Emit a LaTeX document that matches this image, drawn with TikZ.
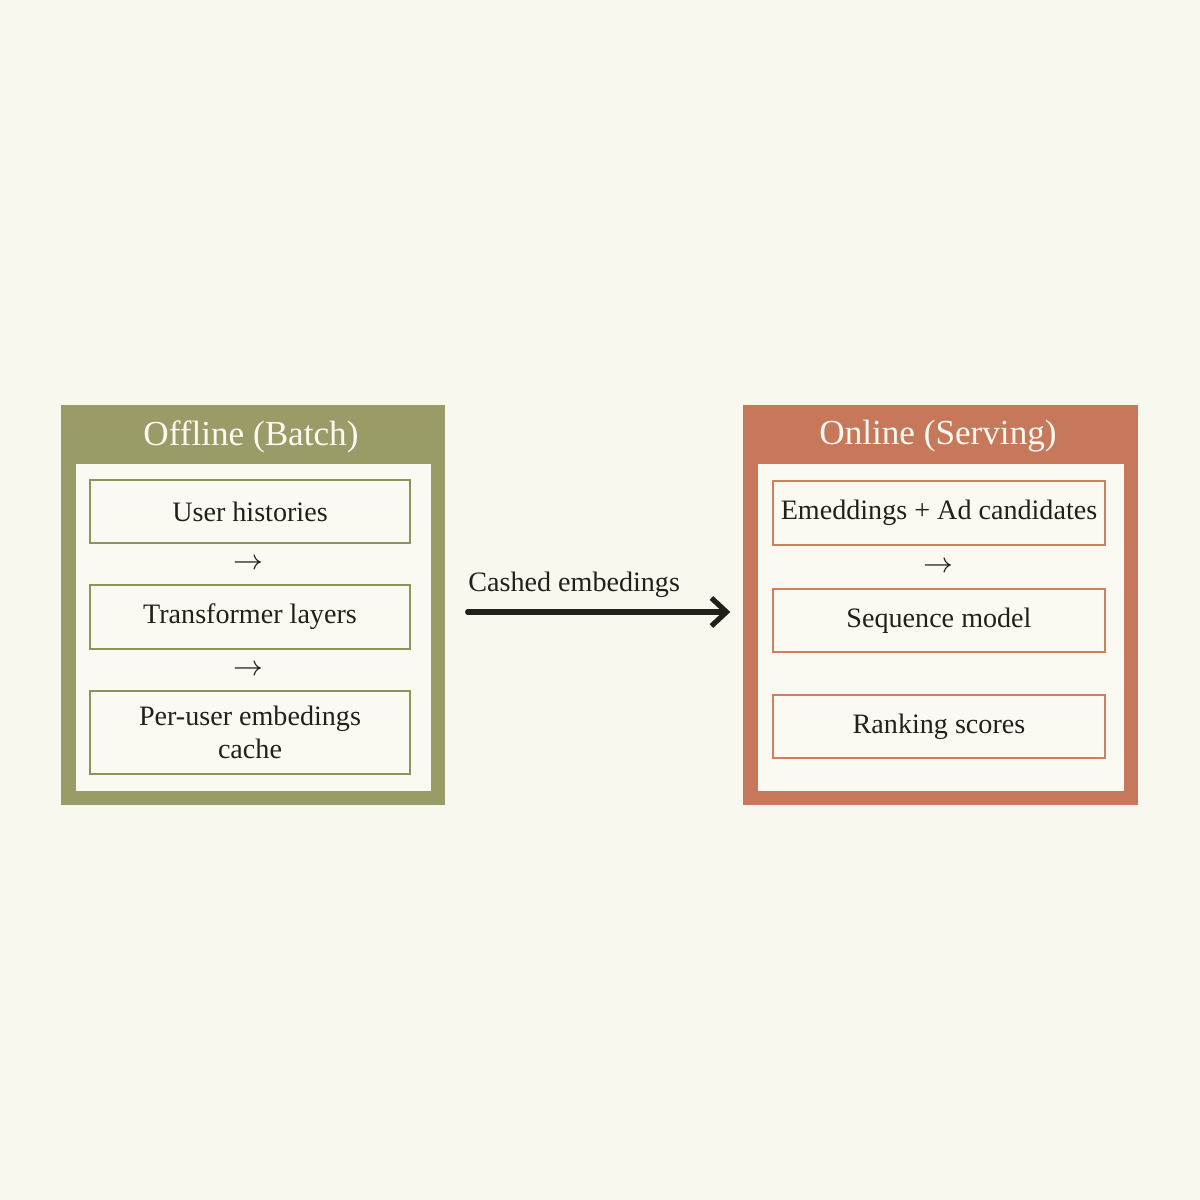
\documentclass[tikz,border=0pt]{standalone}
\usepackage{fontspec}
\setmainfont{Liberation Serif}
\usetikzlibrary{arrows.meta}
\definecolor{paper}{HTML}{F9F8EF}
\definecolor{panel}{HTML}{FBFAF2}
\definecolor{sage}{HTML}{9A9C68}
\definecolor{sageline}{HTML}{8E9458}
\definecolor{clay}{HTML}{C8785A}
\definecolor{clayline}{HTML}{CF7F60}
\definecolor{ink}{HTML}{222019}
\begin{document}
\begin{tikzpicture}[
	frame/.style={draw=none,minimum width=#1,minimum height=4cm,inner sep=0pt},
	sheet/.style={fill=panel,draw=none,minimum width=#1,minimum height=3.27cm,inner sep=0pt},
	title/.style={text=panel,font=\fontsize{10}{12}\selectfont},
	stepbox/.style={draw=#1,line width=0.6pt,fill=panel,minimum width=3.2cm,inner sep=0pt,align=center,font=\fontsize{8}{9.6}\selectfont,text=ink},
	arr/.style={text=ink,font=\fontsize{8}{9.6}\selectfont}]
 	\fill [paper] (0,0) rectangle (12,12);
 	\node [frame=3.84cm,fill=sage] (offline) at (2.53,5.95) {};
 	\node [sheet=3.55cm] (offsheet) at (2.535,5.725) {};
 	\node [title] (offtitle) at (2.51,7.635) {Offline (Batch)};
 	\node [stepbox=sageline,minimum height=0.63cm] (hist) at (2.50,6.885) {User histories};
 	\node [arr] (a1) at (2.48,6.36) {$\rightarrow$};
 	\node [stepbox=sageline,minimum height=0.64cm] (layers) at (2.50,5.83) {Transformer layers};
 	\node [arr] (a2) at (2.48,5.30) {$\rightarrow$};
 	\node [stepbox=sageline,minimum height=0.83cm] (cache) at (2.50,4.675) {Per-user embedings\\cache};
 	\node [frame=3.95cm,fill=clay] (online) at (9.405,5.95) {};
 	\node [sheet=3.66cm] (onsheet) at (9.41,5.725) {};
 	\node [title] (ontitle) at (9.38,7.635) {Online (Serving)};
 	\node [stepbox=clayline,minimum width=3.32cm,minimum height=0.64cm] (cand) at (9.39,6.87) {Emeddings + Ad candidates};
 	\node [arr] (a3) at (9.38,6.33) {$\rightarrow$};
 	\node [stepbox=clayline,minimum width=3.32cm,minimum height=0.63cm] (seq) at (9.39,5.795) {Sequence model};
 	\node [stepbox=clayline,minimum width=3.32cm,minimum height=0.63cm] (rank) at (9.39,4.735) {Ranking scores};
 	\draw [ink,line width=1.5pt,line cap=round,-{Straight Barb[length=1.5mm,width=2.8mm,line width=1.5pt]},shorten <=0.22cm,shorten >=0.12cm] ([yshift=-0.07cm]offline.east) -- ([yshift=-0.07cm]online.west) node [pos=0,anchor=south west,yshift=0.12cm,xshift=0.2cm,text=ink,font=\fontsize{8}{9.6}\selectfont,inner sep=0pt] (lbl) {Cashed embedings};
\end{tikzpicture}
\end{document}
